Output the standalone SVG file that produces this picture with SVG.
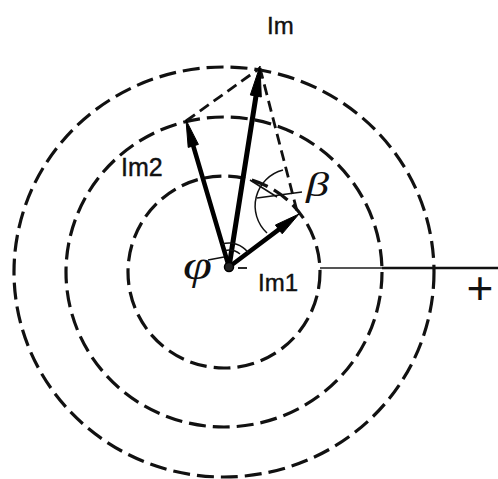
<svg xmlns="http://www.w3.org/2000/svg" width="498" height="479" viewBox="0 0 498 479">
<style>
.ring{fill:none;stroke:#111;stroke-width:3.2;stroke-dasharray:17 7}
.dash{fill:none;stroke:#111;stroke-width:2.8;stroke-dasharray:11 6}
.vec{stroke:#000;fill:none;stroke-linecap:round}
.head{fill:#000;stroke:#000;stroke-width:1;stroke-linejoin:round}
.thin{fill:none;stroke:#111;stroke-width:1.5}
.lbl{font-family:"Liberation Sans",Arial,sans-serif;fill:#111;stroke:#111;stroke-width:0.4}
.greek{font-family:"Liberation Serif","DejaVu Serif",serif;font-style:italic;fill:#111}
</style>
<rect width="498" height="479" fill="#fff"/>
<g id="circles">
<ellipse id="circle-outer" class="ring" cx="224" cy="272" rx="210" ry="205"/>
<ellipse id="circle-middle" class="ring" cx="224" cy="272" rx="158" ry="155"/>
<ellipse id="circle-inner" class="ring" cx="224" cy="272" rx="96" ry="96"/>
</g>
<g id="axis">
<line x1="320" y1="268" x2="382" y2="268" stroke="#555" stroke-width="1.8"/>
<line x1="382" y1="268" x2="498" y2="268" stroke="#111" stroke-width="2.4"/>
<line x1="238" y1="268" x2="247" y2="268" stroke="#111" stroke-width="1.8"/>
<text x="480" y="304" font-size="46" text-anchor="middle" font-family="Liberation Sans,Arial,sans-serif" fill="#111">+</text>
</g>
<g id="connectors">
<line class="dash" x1="186" y1="121" x2="260" y2="68"/>
<line class="dash" x1="260" y1="68" x2="298" y2="215"/>
<line class="vec" x1="229" y1="267" x2="256" y2="96" stroke-width="5"/>
<polygon class="head" points="260,66 261.3,97 250.3,95"/>
<line class="vec" x1="229" y1="267" x2="193.3" y2="146" stroke-width="4.5"/>
<polygon class="head" points="186,120 198.4,144.4 188.2,147.4"/>
<line class="vec" x1="229" y1="267" x2="279" y2="229.4" stroke-width="4.5"/>
<polygon class="head" points="299,214 282.2,233.8 275.4,225"/>
</g>
<g id="center">
<circle cx="229" cy="267" r="4.5" fill="#222" stroke="#000" stroke-width="1.5"/>
</g>
<g id="angles">
<path class="thin" d="M222.2,244 A24,24 0 0 1 248.2,252.6"/>
<path class="thin" d="M225.3,250.5 A17,17 0 0 1 240,254"/>
<path class="thin" d="M283,170 A37,37 0 0 0 267,233"/>
<line class="thin" x1="257" y1="198" x2="302" y2="192"/>
<line class="thin" x1="250" y1="180" x2="277" y2="197"/>
<line class="thin" x1="208" y1="260" x2="224" y2="257"/>
</g>
<g id="labels">
<text class="lbl" x="267" y="34" font-size="24">Im</text>
<text class="lbl" x="121" y="176" font-size="25">Im2</text>
<text class="lbl" x="258" y="291" font-size="24">Im1</text>
<text class="greek" x="183" y="279" font-size="40" textLength="29" lengthAdjust="spacingAndGlyphs">φ</text>
<text class="greek" x="306" y="196" font-size="34" textLength="23" lengthAdjust="spacingAndGlyphs">β</text>
</g>
</svg>
